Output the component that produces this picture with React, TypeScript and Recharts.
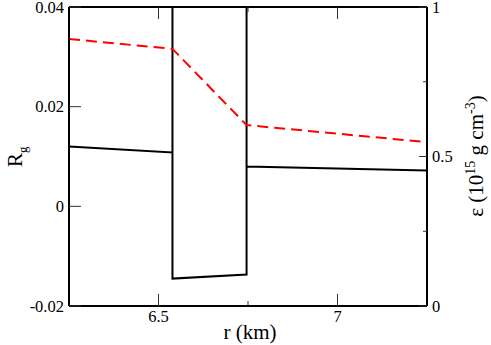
import React from 'react';
import { LineChart, Line, XAxis, YAxis } from 'recharts';

// R_g curve (left axis); the 0.06 points run off the top of the frame
const rBlack = [6.25, 6.539, 6.539, 6.539, 6.746, 6.746, 6.746, 7.25];
const rgValues = [0.012, 0.0108, 0.06, -0.0145, -0.0137, 0.06, 0.008, 0.0072];

// energy density curve (right axis)
const rRed = [6.25, 6.539, 6.746, 7.25];
const epsValues = [0.893, 0.86, 0.605, 0.548];

const xTicks = [6.5, 6.75, 7];
const xMajor = [6.5, 7];
const rgTicks = [-0.02, 0, 0.02, 0.04];
const epsTicks = [0, 0.25, 0.5, 0.75, 1];
const epsMajor = [0, 0.5, 1];

const rgData = rBlack.map((r, i) => ({ r, rg: rgValues[i] }));
const epsData = rRed.map((r, i) => ({ r, eps: epsValues[i] }));

const serif = 'Liberation Serif';
const tickColor = '#333';

const BottomTick = (props: any) => {
  const { x, y, payload } = props;
  const major = xMajor.includes(payload.value);
  return (
    <g>
      <line x1={x} y1={y} x2={x} y2={y - (major ? 12 : 5)} stroke={tickColor} />
      {major && (
        <text x={x} y={y + 16} textAnchor="middle" fontSize={16.5} fontFamily={serif} fill="#000">
          {payload.value}
        </text>
      )}
    </g>
  );
};

const TopTick = (props: any) => {
  const { x, y, payload } = props;
  const major = xMajor.includes(payload.value);
  return <line x1={x} y1={y} x2={x} y2={y + (major ? 12 : 5)} stroke={tickColor} />;
};

const LeftTick = (props: any) => {
  const { x, y, payload } = props;
  return (
    <g>
      <line x1={x} y1={y} x2={x + 12} y2={y} stroke={tickColor} />
      <text x={x - 5} y={y + 5.5} textAnchor="end" fontSize={16.5} fontFamily={serif} fill="#000">
        {payload.value}
      </text>
    </g>
  );
};

const RightTick = (props: any) => {
  const { x, y, payload } = props;
  const major = epsMajor.includes(payload.value);
  return (
    <g>
      <line x1={x} y1={y} x2={x - (major ? 8 : 4)} y2={y} stroke={tickColor} />
      {major && (
        <text x={x + 5} y={y + 5.5} textAnchor="start" fontSize={16.5} fontFamily={serif} fill="#000">
          {payload.value}
        </text>
      )}
    </g>
  );
};

const frame = { stroke: '#000', strokeWidth: 2 };

const title: React.CSSProperties = {
  position: 'absolute',
  fontFamily: serif,
  fontSize: 21,
  lineHeight: '21px',
  whiteSpace: 'nowrap',
  color: '#000',
  pointerEvents: 'none',
};

export default function App() {
  return (
    <div style={{ position: 'absolute', left: 0, top: 0, width: 491, height: 345 }}>
      <LineChart width={491} height={345} margin={{ top: 6, right: 0, bottom: 0, left: 0 }}>
        <XAxis
          xAxisId="b"
          type="number"
          dataKey="r"
          domain={[6.25, 7.25]}
          allowDataOverflow
          ticks={xTicks}
          interval={0}
          tickSize={0}
          tickMargin={0}
          tickLine={false}
          tick={<BottomTick />}
          axisLine={frame}
          height={39}
        />
        <XAxis
          xAxisId="t"
          orientation="top"
          type="number"
          dataKey="r"
          domain={[6.25, 7.25]}
          allowDataOverflow
          ticks={xTicks}
          interval={0}
          tickSize={0}
          tickMargin={0}
          tickLine={false}
          tick={<TopTick />}
          axisLine={frame}
          height={1}
        />
        <YAxis
          yAxisId="l"
          type="number"
          domain={[-0.02, 0.04]}
          allowDataOverflow
          ticks={rgTicks}
          interval={0}
          tickSize={0}
          tickMargin={0}
          tickLine={false}
          tick={<LeftTick />}
          axisLine={frame}
          width={69}
        />
        <YAxis
          yAxisId="r"
          orientation="right"
          type="number"
          domain={[0, 1]}
          allowDataOverflow
          ticks={epsTicks}
          interval={0}
          tickSize={0}
          tickMargin={0}
          tickLine={false}
          tick={<RightTick />}
          axisLine={frame}
          width={64}
        />
        <Line
          xAxisId="b"
          yAxisId="l"
          data={rgData}
          dataKey="rg"
          type="linear"
          stroke="#000"
          strokeWidth={2}
          dot={false}
          activeDot={false}
          isAnimationActive={false}
        />
        <Line
          xAxisId="b"
          yAxisId="r"
          data={epsData}
          dataKey="eps"
          type="linear"
          stroke="#ff0000"
          strokeWidth={2}
          strokeDasharray="11 6"
          dot={false}
          activeDot={false}
          isAnimationActive={false}
        />
      </LineChart>
      {/* axis titles as html text laid over the chart */}
      <div style={{ ...title, left: 170, top: 322, width: 160, textAlign: 'center' }}>r (km)</div>
      <div
        style={{
          ...title,
          left: 5,
          top: 167,
          transformOrigin: '0 0',
          transform: 'rotate(-90deg)',
        }}
      >
        R<span style={{ fontSize: 13, position: 'relative', top: 5 }}>g</span>
      </div>
      <div
        style={{
          ...title,
          left: 466,
          top: 236,
          width: 160,
          textAlign: 'center',
          transformOrigin: '0 0',
          transform: 'rotate(-90deg)',
        }}
      >
        ε (10<span style={{ fontSize: 14, position: 'relative', top: -8 }}>15</span> g cm
        <span style={{ fontSize: 14, position: 'relative', top: -8 }}>-3</span>)
      </div>
    </div>
  );
}
